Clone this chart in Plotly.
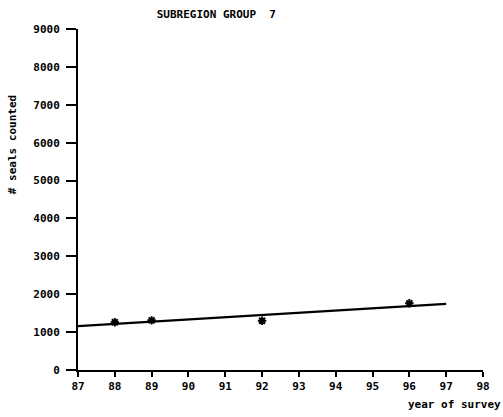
import numpy as np
import plotly.graph_objects as go

# Survey counts for subregion group 7
years = [88, 89, 92, 96]
seals_counted = [1260, 1310, 1300, 1760]

x_ticks = list(range(87, 99))
y_ticks = list(range(0, 9001, 1000))

# Least-squares trend drawn across 1987-1997
slope, intercept = np.polyfit(years, seals_counted, 1)
trend_x = [87, 97]
trend_y = [slope * v + intercept for v in trend_x]

font_main = "DejaVu Sans Mono"

fig = go.Figure()
fig.add_trace(go.Scatter(
    x=trend_x, y=trend_y, mode="lines",
    line=dict(color="black", width=2.2), showlegend=False,
))
fig.add_trace(go.Scatter(
    x=years, y=seals_counted, mode="markers",
    marker=dict(symbol="asterisk-open", size=7, color="black",
                line=dict(color="black", width=2)),
    showlegend=False,
))

fig.update_layout(
    width=503, height=417,
    margin=dict(l=78, r=20, t=29, b=47),
    paper_bgcolor="white", plot_bgcolor="white",
    font=dict(family=font_main, size=11, color="black"),
    title=dict(text="<b>SUBREGION GROUP  7</b>", x=0.43, xanchor="center",
               y=0.965, yanchor="middle",
               font=dict(family=font_main, size=11, color="black")),
    xaxis=dict(range=[87, 98], tickvals=x_ticks,
               ticktext=[f"<b>{v}</b>" for v in x_ticks],
               showgrid=False, zeroline=False, showline=True,
               linecolor="black", linewidth=2,
               ticks="outside", ticklen=5, tickwidth=2, tickcolor="black",
               tickfont=dict(family=font_main, size=11)),
    yaxis=dict(range=[0, 9000], tickvals=y_ticks,
               ticktext=[f"<b>{v}</b>" for v in y_ticks],
               showgrid=False, zeroline=False, showline=True,
               linecolor="black", linewidth=2,
               ticks="outside", ticklen=10, tickwidth=2, tickcolor="black",
               ticklabelstandoff=4,
               tickfont=dict(family=font_main, size=11)),
    annotations=[
        dict(text="<b>year of survey</b>", xref="paper", yref="paper",
             x=1.0 + 20 / 405, y=-0.1, xanchor="right", yanchor="middle",
             showarrow=False, font=dict(family=font_main, size=11)),
        dict(text="<b># seals counted</b>", xref="paper", yref="paper",
             x=-0.16, y=0.66, xanchor="center", yanchor="middle",
             textangle=-90, showarrow=False,
             font=dict(family=font_main, size=11)),
    ],
)

fig.write_html("out.html")
